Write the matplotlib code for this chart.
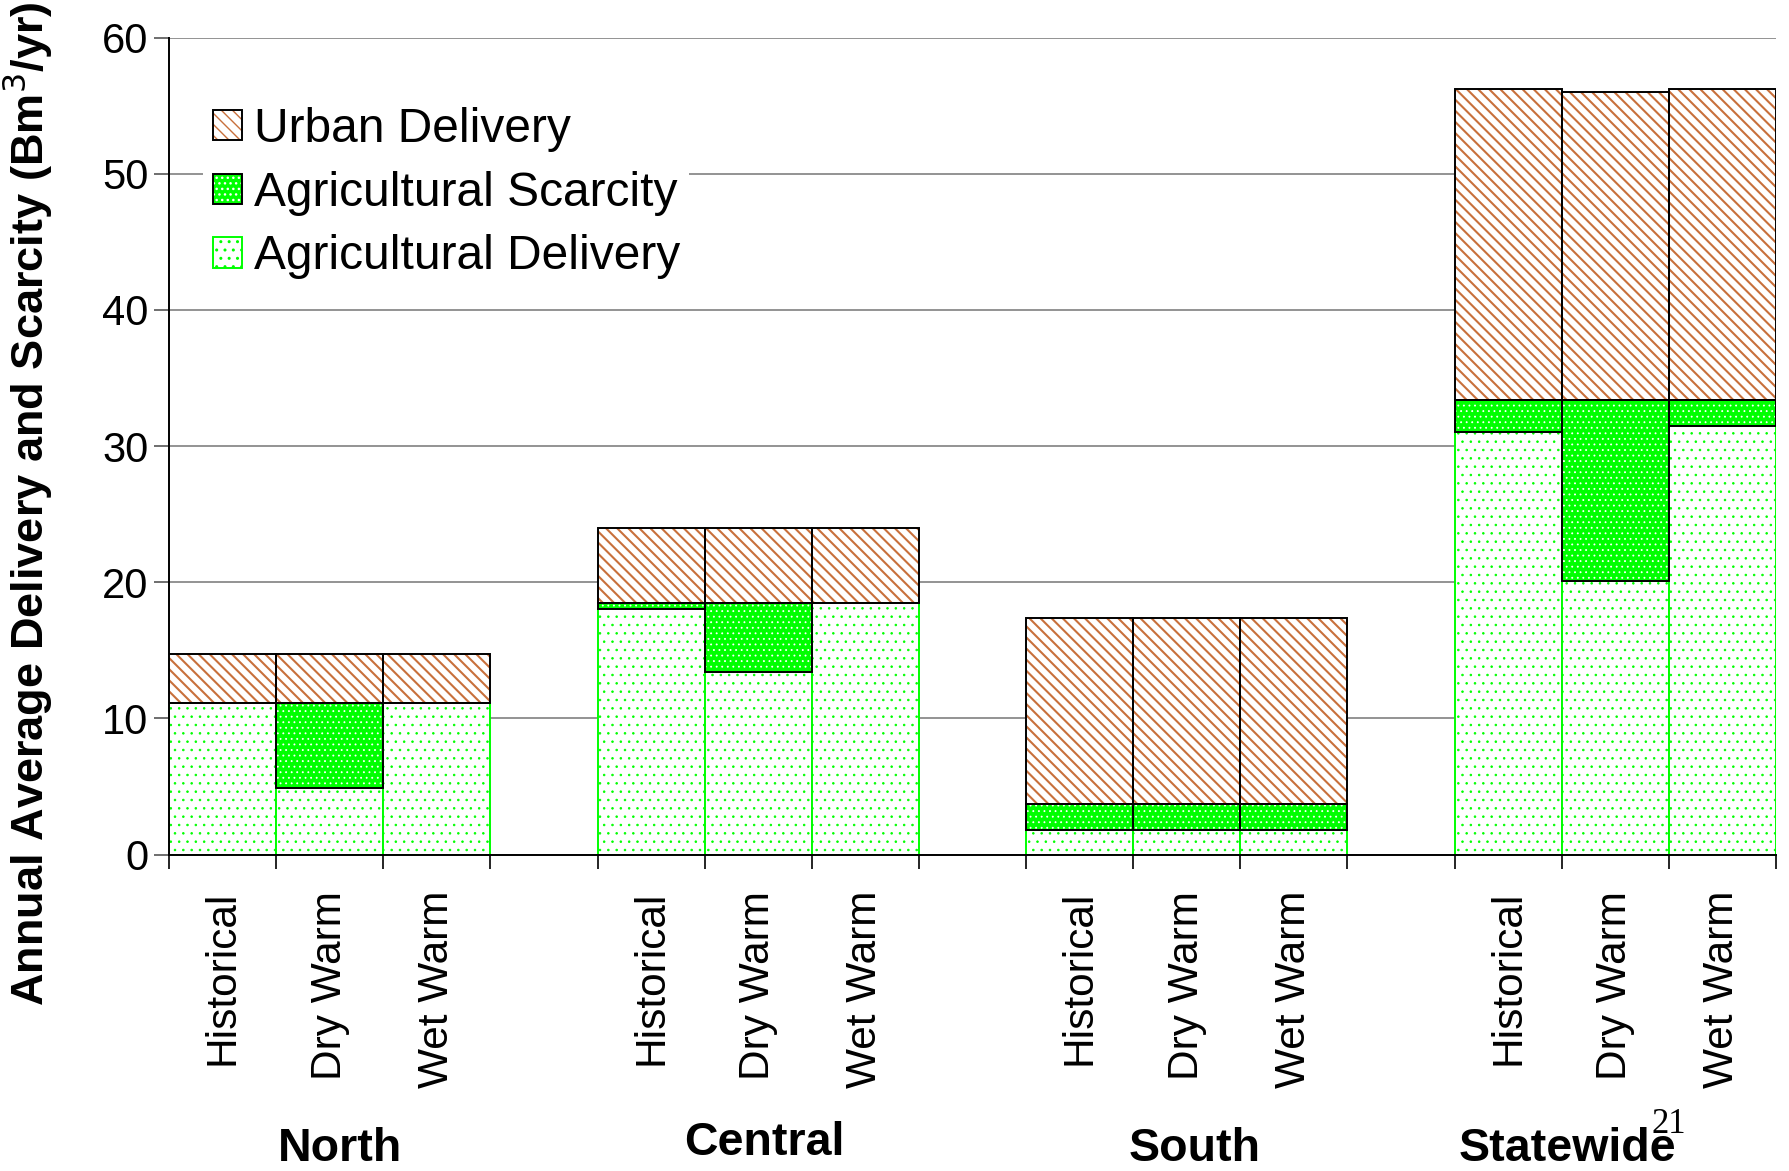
import matplotlib
matplotlib.use('Agg')
import matplotlib.pyplot as plt
import matplotlib.transforms as mtransforms
from matplotlib.patches import Patch
from matplotlib.legend_handler import HandlerTuple
import numpy as np

plt.rcParams['font.family'] = ['Liberation Sans', 'DejaVu Sans']

regions = ['North', 'Central', 'South', 'Statewide']
scenarios = ['Historical', 'Dry Warm', 'Wet Warm']

# Bm3/yr, order: region x scenario
ag_delivery = [11.1, 4.9, 11.1, 18.0, 13.4, 18.5, 1.8, 1.8, 1.8, 31.0, 20.1, 31.5]
ag_scarcity = [0.0, 6.2, 0.0, 0.5, 5.1, 0.0, 1.9, 1.9, 1.9, 2.4, 13.3, 1.9]
urban_delivery = [3.6, 3.6, 3.6, 5.5, 5.5, 5.5, 13.7, 13.7, 13.7, 22.8, 22.6, 22.8]

GREEN = '#00ff00'
BROWN = '#c8703c'

x = np.array([g * 4 + i for g in range(len(regions)) for i in range(len(scenarios))])
ag = np.array(ag_delivery)
sc = np.array(ag_scarcity)
ur = np.array(urban_delivery)

fig = plt.figure(figsize=(17.89, 11.71), dpi=100)
ax = fig.add_axes([0.0945, 0.2702, 0.8982, 0.6977])

# dots are drawn with a thin hatch line, the diagonal lines with a thicker one
with plt.rc_context({'hatch.linewidth': 0.6}):
    # agricultural delivery: white with green dots, green outline
    ax.bar(x, ag, width=1.0, facecolor='white', edgecolor=GREEN, hatch='..', linewidth=1.4, zorder=2)
    # agricultural scarcity: green with white dots, black outline
    ax.bar(x, sc, bottom=ag, width=1.0, facecolor=GREEN, edgecolor='white', hatch='...', linewidth=0, zorder=3)
    h_sc = Patch(facecolor=GREEN, edgecolor='white', hatch='...', linewidth=0)
    h_ag = Patch(facecolor='white', edgecolor=GREEN, hatch='..', linewidth=1.4)
ax.bar(x, sc, bottom=ag, width=1.0, fill=False, edgecolor='black', linewidth=1.4, zorder=4)

with plt.rc_context({'hatch.linewidth': 1.5}):
    # urban delivery: white with brown diagonal lines, black outline
    ax.bar(x, ur, bottom=ag + sc, width=1.0, facecolor='white', edgecolor=BROWN, hatch='\\\\\\', linewidth=0, zorder=3)
    h_ur = Patch(facecolor='white', edgecolor=BROWN, hatch='\\\\\\', linewidth=0)
ax.bar(x, ur, bottom=ag + sc, width=1.0, fill=False, edgecolor='black', linewidth=1.4, zorder=4)

ax.set_xlim(-0.5, 14.5)
ax.set_ylim(0, 60)
ax.set_yticks(range(0, 61, 10))
ax.set_xticks(x)
ax.set_xticklabels(scenarios * len(regions), rotation=90, fontsize=30.5, va='top')
ax.set_xticks(np.arange(-0.5, 15, 1.0), minor=True)
ax.tick_params(axis='x', which='major', length=0, pad=26)
ax.tick_params(axis='x', which='minor', length=10, width=1.2, color='black')
ax.tick_params(axis='y', length=11, width=1.2, color='#555555', labelsize=30, pad=4)

for s in ['top', 'right']:
    ax.spines[s].set_visible(False)
ax.spines['left'].set_linewidth(1.4)
ax.spines['bottom'].set_linewidth(1.4)
ax.set_axisbelow(True)
ax.yaxis.grid(True, color='#808080', linewidth=1.2)

ax.set_ylabel('Annual Average Delivery and Scarcity (Bm$^3$/yr)', fontsize=32.5, fontweight='bold')
ax.yaxis.set_label_coords(-0.071, 0.43)

# region names under each group
region_x = [1.1, 5.06, 9.07, 12.55]
region_y = [0.0185, 0.0235, 0.0185, 0.0185]
trans = mtransforms.blended_transform_factory(ax.transData, fig.transFigure)
for name, rx, ry in zip(regions, region_x, region_y):
    ax.text(rx, ry, name, transform=trans, fontsize=33.5, fontweight='bold',
            ha='center', va='center', clip_on=False)

handles = [
    (h_ur, Patch(fill=False, edgecolor='black', linewidth=1.4)),
    (h_sc, Patch(fill=False, edgecolor='black', linewidth=1.4)),
    h_ag,
]
labels = ['Urban Delivery', 'Agricultural Scarcity', 'Agricultural Delivery']
leg = ax.legend(handles, labels, handler_map={tuple: HandlerTuple(ndivide=1)},
                loc='upper left', bbox_to_anchor=(0.0064, 0.956), fontsize=34.5,
                frameon=True, facecolor='white', edgecolor='none', framealpha=1.0, fancybox=False,
                handlelength=0.6, handleheight=0.6, handletextpad=0.25, labelspacing=0.39,
                borderpad=0.2)

fig.text(0.933, 0.0393, '21', fontsize=25, family=['Liberation Serif', 'DejaVu Serif'],
         ha='center', va='center')

fig.savefig('out.png', dpi=100)
